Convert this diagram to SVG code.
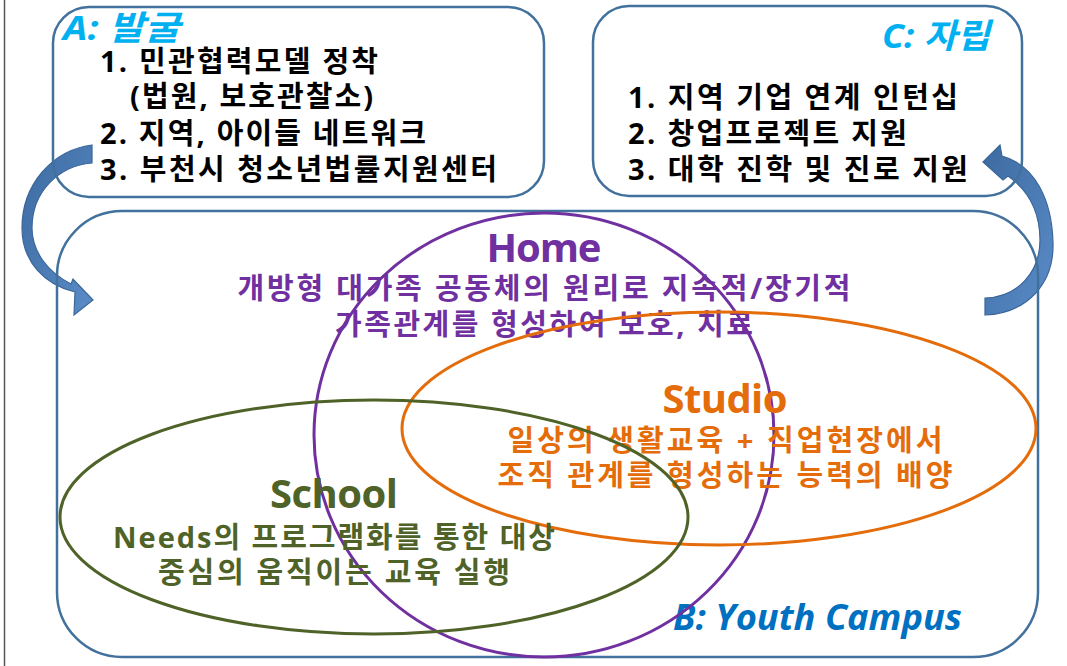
<svg xmlns="http://www.w3.org/2000/svg" width="1067" height="666" viewBox="0 0 1067 666">
<defs>
<style>
.box{fill:none;stroke:#41719C;stroke-width:2.5}
.t{font-family:'Open Sans','Noto Sans CJK KR',sans-serif;font-weight:bold}
.body{font-size:29px;fill:#000}
.title{font-size:34px;font-style:italic}
.big{font-size:40px;text-anchor:middle}
.mid{font-size:29px;text-anchor:middle}
.arrow{fill:url(#ag);stroke:#3A6699;stroke-width:1.2}
</style>
<linearGradient id="ag" x1="0" y1="0" x2="1" y2="1">
<stop offset="0" stop-color="#3D6AA0"/>
<stop offset="1" stop-color="#5A8CC8"/>
</linearGradient>
</defs>
<rect width="1067" height="666" fill="#fff"/>
<line x1="4.5" y1="0" x2="4.5" y2="666" stroke="#555" stroke-width="1.5"/>

<g id="connectors">
<path class="arrow" d="M92,145 C52,150 22,185 22,228 C22,262 45,285 75,292 L74,315 L93,300 L73,279 L71,284 C48,272 32,252 32,228 C32,192 58,166 92,163 Z"/>
<path class="arrow" d="M985,315 C1028,313 1054,283 1053,243 C1052,200 1035,165 1002,156 L1000,145 L983,162 L1003,180 L1008,176 C1028,190 1040,212 1040,240 C1040,272 1018,297 985,298 Z"/>
</g>

<g id="boxA">
<rect class="box" x="53" y="7" width="491" height="190" rx="36"/>
<text class="t title" x="63" y="40" fill="#00B0F0" textLength="117" lengthAdjust="spacingAndGlyphs">A: 발굴</text>
<text class="t body" x="100" y="72" textLength="278">1. 민관협력모델 정착</text>
<text class="t body" x="130" y="107" textLength="243">(법원, 보호관찰소)</text>
<text class="t body" x="100" y="144" textLength="326">2. 지역, 아이들 네트워크</text>
<text class="t body" x="100" y="180" textLength="397">3. 부천시 청소년법률지원센터</text>
</g>

<g id="boxC">
<rect class="box" x="593" y="6" width="429" height="190" rx="36"/>
<text class="t title" x="882" y="48" fill="#00B0F0" textLength="108" lengthAdjust="spacingAndGlyphs">C: 자립</text>
<text class="t body" x="628" y="108" textLength="330">1. 지역 기업 연계 인턴십</text>
<text class="t body" x="628" y="144" textLength="279">2. 창업프로젝트 지원</text>
<text class="t body" x="628" y="180" textLength="340">3. 대학 진학 및 진로 지원</text>
</g>

<g id="boxB">
<rect class="box" x="57" y="211" width="981" height="446" rx="65"/>
<text class="t" x="673" y="630" font-size="35" font-style="italic" fill="#0070C0" textLength="289" lengthAdjust="spacingAndGlyphs">B: Youth Campus</text>
</g>

<g id="home">
<text class="t big" x="544" y="262" fill="#7030A0" textLength="115">Home</text>
<text class="t mid" x="544" y="299" fill="#7030A0" textLength="613">개방형 대가족 공동체의 원리로 지속적/장기적</text>
<text class="t mid" x="544" y="335" fill="#7030A0" textLength="418">가족관계를 형성하여 보호, 치료</text>
<ellipse cx="544" cy="435" rx="230" ry="222" fill="none" stroke="#7030A0" stroke-width="3"/>
</g>

<g id="studio">
<text class="t big" x="725" y="413" fill="#E46C0A" textLength="125">Studio</text>
<text class="t mid" x="725" y="451" fill="#E46C0A" textLength="435">일상의 생활교육 + 직업현장에서</text>
<text class="t mid" x="725" y="486" fill="#E46C0A" textLength="455">조직 관계를 형성하는 능력의 배양</text>
<ellipse cx="719" cy="428.5" rx="317" ry="116.5" fill="none" stroke="#E46C0A" stroke-width="3"/>
</g>

<g id="school">
<text class="t big" x="334" y="508" fill="#4F6228" textLength="128">School</text>
<text class="t mid" x="334" y="548" fill="#4F6228" textLength="442">Needs의 프로그램화를 통한 대상</text>
<text class="t mid" x="334" y="583" fill="#4F6228" textLength="352">중심의 움직이는 교육 실행</text>
<ellipse cx="374" cy="517" rx="314" ry="117" fill="none" stroke="#4F6228" stroke-width="3"/>
</g>
</svg>
